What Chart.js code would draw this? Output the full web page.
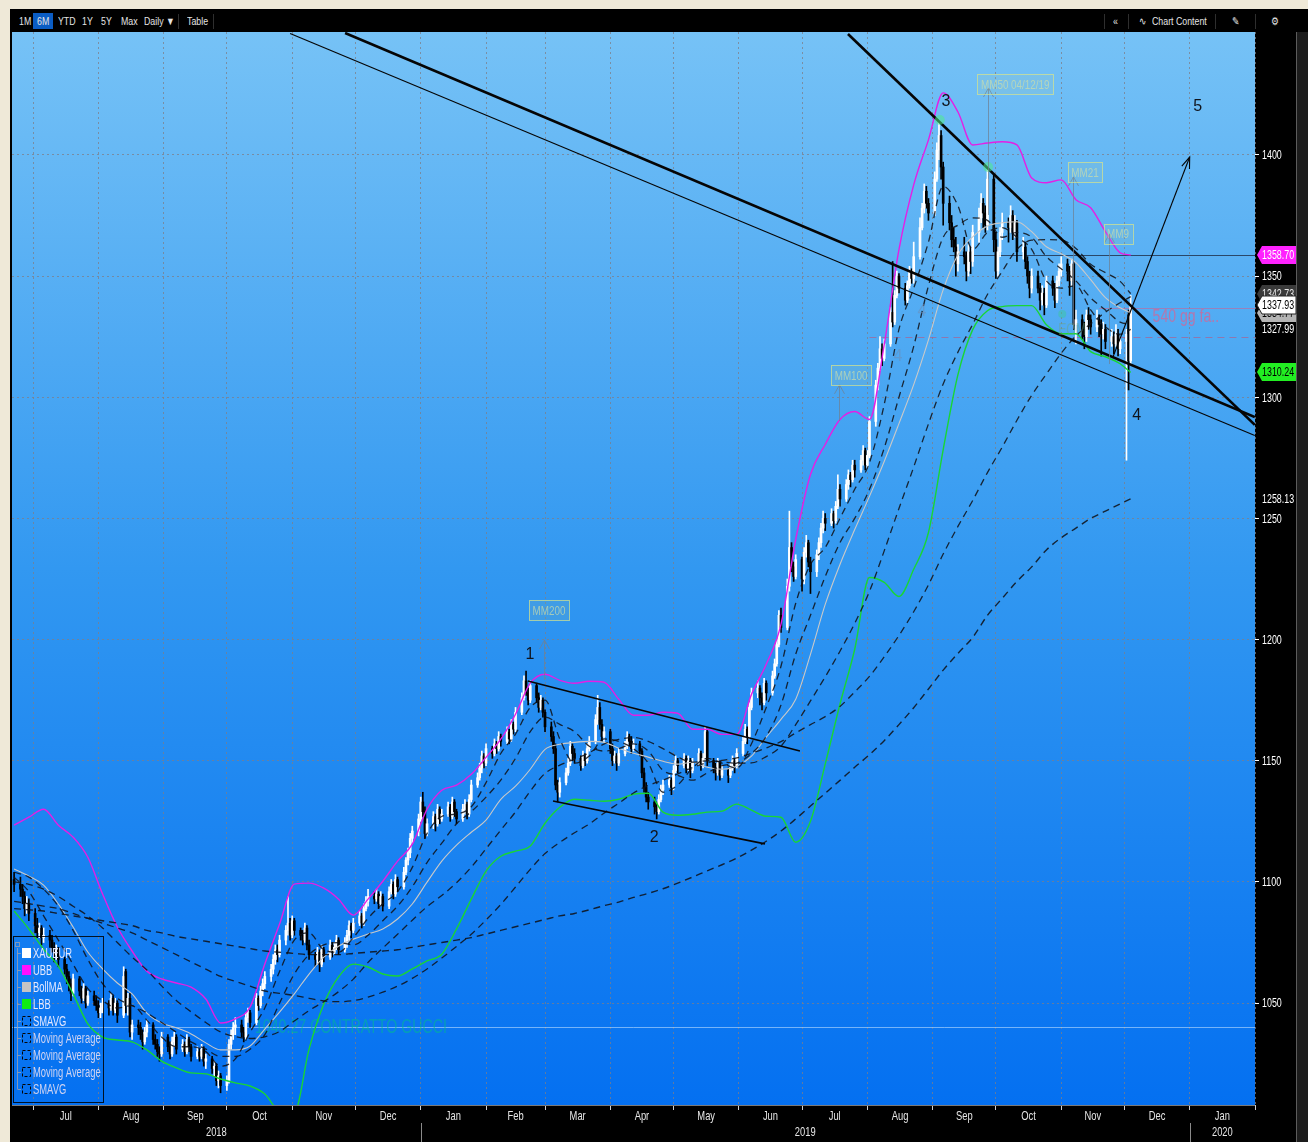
<!DOCTYPE html>
<html>
<head>
<meta charset="utf-8">
<title>XAUEUR</title>
<script src="https://cdn.jsdelivr.net/npm/chart.js@4.4.1/dist/chart.umd.min.js"></script>
<style>
  html, body { margin: 0; padding: 0; background: #efe9d8; }
  body { width: 1308px; height: 1142px; position: relative; overflow: hidden; }
  #chart { position: absolute; left: 0; top: 0; }
  #toolbar { position: absolute; left: 12px; top: 12px; width: 1284px; height: 19px; background: #000;
    font-family: 'Liberation Sans', Arial, sans-serif; font-size: 11px; color: #e4e4e4; }
  #toolbar span { position: absolute; top: 3px; white-space: nowrap; transform: scaleX(0.8); transform-origin: left center; }
  #toolbar .on { background: #0b5dc4; top: 1px; padding: 2px 5px; }
  #toolbar .sep { top: 2px; width: 1px; height: 15px; background: #2e2e2e; transform: none; }
</style>
</head>
<body>
<canvas id="chart" width="1308" height="1142"></canvas>
<div id="toolbar">
  <span style="left:7px">1M</span>
  <span class="on" style="left:21px">6M</span>
  <span style="left:46px">YTD</span>
  <span style="left:70px">1Y</span>
  <span style="left:89px">5Y</span>
  <span style="left:109px">Max</span>
  <span style="left:132px">Daily &#9660;</span>
  <span class="sep" style="left:166px"></span>
  <span style="left:175px">Table</span>
  <span class="sep" style="left:201px"></span>
  <span class="sep" style="left:1092px"></span>
  <span style="left:1101px">&laquo;</span>
  <span class="sep" style="left:1116px"></span>
  <span style="left:1127px">&#8767;</span>
  <span style="left:1140px">Chart Content</span>
  <span class="sep" style="left:1203px"></span>
  <span style="left:1220px">&#9998;</span>
  <span class="sep" style="left:1243px"></span>
  <span style="left:1259px">&#9881;</span>
</div>
<script>
const FONT = "'Liberation Sans', Arial, sans-serif";

// ---- daily candles, one per weekday, first one Fri 22 Jun 2018 (days counted from 1 Jan 2019)
const firstDay = -193;
const opens = [
  1101,
  1099,1097,1094,1089,1091, 1087,1082,1079,1081,1077, 1078,1076,1073,1070,1072, 1068,1064,1061,1058,1054,
  1060,1055,1052,1056,1050, 1053,1051,1049,1046,1048, 1050,1048,1052,1047,1050, 1045,1063,1049,1052,1038,
  1041,1040,1037,1034,1038, 1041,1035,1033,1030,1029, 1036,1032,1029,1034,1036, 1031,1033,1030,1035,1032,
  1028,1030,1028,1031,1026, 1027,1023,1024,1018,1020, 1016,1018,1033,1037,1040, 1041,1038,1036,1044,1046,
  1042,1052,1049,1055,1058, 1061,1064,1068,1072,1070, 1076,1080,1083,1078,1084, 1080,1078,1076,1081,1074,
  1070,1068,1071,1066,1072, 1069,1074,1071,1073,1076, 1072,1075,1078,1082,1080, 1083,1086,1083,1089,1092,
  1094,1093,1095,1091,1094, 1090,1096,1099,1095,1101, 1098,1104,1109,1112,1118, 1121,1126,1133,1129,1120,
  1124,1127,1124,1130,1126, 1128,1131,1127,1133,1129, 1126,1130,1132,1128,1134, 1140,1143,1147,1152,1149,
  1155,1153,1157,1155,1160, 1158,1162,1159,1165,1163, 1170,1176,1183,1178,1175, 1181,1176,1172,1175,1170,
  1164,1160,1155,1140,1137, 1141,1145,1149,1156,1153, 1151,1148,1152,1150,1155, 1158,1167,1172,1165,1160,
  1162,1155,1150,1152,1149, 1153,1156,1160,1158,1155, 1157,1154,1145,1139,1135, 1133,1131,1129,1134,1138,
  1140,1142,1139,1146,1150, 1148,1151,1147,1150,1146, 1149,1153,1148,1151,1162, 1150,1147,1145,1149,1144,
  1146,1144,1147,1150,1148, 1153,1158,1163,1160,1172, 1178,1180,1176,1174,1182, 1178,1185,1190,1198,1210,
  1205,1222,1238,1230,1226, 1233,1225,1236,1240,1232, 1228,1235,1240,1246,1250, 1248,1252,1249,1255,1262,
  1258,1264,1268,1266,1272, 1270,1274,1278,1272,1276, 1290,1305,1312,1320,1316, 1322,1335,1331,1342,1350,
  1345,1340,1346,1352,1349, 1358,1370,1378,1385,1380, 1376,1390,1402,1408,1395, 1380,1372,1365,1362,1355,
  1360,1358,1352,1360,1356, 1368,1374,1380,1376,1371, 1390,1365,1352,1360,1368, 1372,1370,1375,1368,1372,
  1360,1362,1356,1350,1345, 1350,1345,1340,1343,1338, 1348,1345,1340,1348,1352, 1355,1352,1348,1355,1330,
  1332,1328,1325,1334,1332, 1329,1332,1330,1326,1328, 1323,1325,1322,1326,1320,
  1323,1334,1315
];
const highs = [
  1104,
  1102,1099,1096,1094,1093, 1089,1085,1083,1082,1081, 1080,1078,1075,1074,1073, 1069,1066,1063,1060,1062,
  1061,1057,1058,1057,1055, 1055,1053,1051,1050,1052, 1051,1054,1053,1052,1051, 1065,1064,1054,1054,1043,
  1043,1042,1039,1040,1043, 1042,1037,1035,1032,1038, 1037,1034,1036,1038,1037, 1035,1034,1037,1036,1033,
  1032,1031,1033,1032,1029, 1028,1026,1025,1022,1021, 1020,1035,1039,1042,1044, 1043,1040,1046,1048,1047,
  1054,1053,1057,1060,1063, 1066,1070,1074,1074,1078, 1082,1094,1085,1086,1085, 1081,1080,1083,1082,1076,
  1071,1073,1072,1074,1073, 1076,1075,1075,1078,1077, 1077,1080,1084,1083,1085, 1088,1087,1091,1094,1097,
  1096,1097,1096,1096,1095, 1098,1101,1100,1103,1102, 1106,1110,1114,1120,1123, 1128,1135,1137,1131,1126,
  1129,1128,1132,1131,1130, 1133,1132,1135,1134,1130, 1132,1134,1133,1136,1142, 1145,1149,1154,1153,1157,
  1156,1159,1158,1162,1161, 1164,1163,1167,1166,1172, 1178,1185,1187,1180,1183, 1182,1178,1177,1176,1171,
  1166,1162,1157,1142,1143, 1147,1151,1158,1157,1155, 1152,1154,1153,1157,1160, 1169,1177,1174,1167,1164,
  1163,1157,1154,1153,1155, 1158,1162,1161,1160,1159, 1158,1155,1147,1141,1137, 1135,1133,1136,1140,1142,
  1144,1143,1148,1152,1151, 1153,1152,1152,1151,1151, 1155,1154,1153,1164,1163, 1151,1149,1151,1150,1148,
  1147,1149,1152,1151,1155, 1160,1165,1164,1174,1180, 1183,1181,1178,1184,1183, 1187,1192,1200,1212,1213,
  1225,1253,1240,1232,1235, 1234,1238,1243,1241,1234, 1237,1242,1248,1253,1252, 1254,1253,1257,1268,1264,
  1266,1270,1269,1274,1274, 1276,1280,1279,1278,1292, 1307,1314,1325,1322,1324, 1337,1356,1344,1352,1351,
  1347,1348,1354,1353,1364, 1374,1380,1388,1387,1382, 1393,1405,1414,1410,1397, 1383,1375,1370,1366,1363,
  1366,1360,1363,1362,1371, 1378,1384,1382,1379,1395, 1392,1368,1362,1370,1376, 1374,1379,1377,1375,1373,
  1366,1364,1358,1352,1353, 1352,1347,1346,1345,1350, 1350,1347,1350,1355,1358, 1357,1354,1357,1356,1336,
  1334,1331,1336,1337,1334, 1336,1334,1332,1331,1330, 1328,1327,1330,1328,1325,
  1328,1336,1342
];
const lows = [
  1096,
  1094,1091,1086,1087,1084, 1079,1077,1077,1074,1075, 1073,1071,1067,1068,1065, 1062,1058,1055,1051,1053,
  1053,1050,1051,1048,1049, 1049,1047,1044,1044,1046, 1045,1047,1045,1046,1042, 1044,1046,1045,1036,1035,
  1037,1035,1031,1033,1036, 1033,1031,1028,1026,1028, 1030,1027,1028,1032,1029, 1030,1028,1029,1030,1026,
  1027,1026,1027,1024,1023, 1021,1020,1016,1015,1013, 1014,1017,1031,1035,1037, 1036,1034,1035,1042,1040,
  1041,1047,1048,1053,1056, 1059,1062,1066,1067,1069, 1074,1078,1076,1077,1078, 1076,1074,1075,1072,1068,
  1065,1066,1063,1065,1067, 1068,1069,1070,1072,1070, 1071,1073,1076,1077,1079, 1082,1081,1082,1088,1090,
  1091,1092,1089,1090,1088, 1089,1095,1093,1094,1096, 1097,1103,1107,1110,1116, 1119,1125,1127,1118,1119,
  1122,1121,1123,1124,1125, 1127,1125,1126,1127,1124, 1125,1128,1126,1127,1133, 1139,1142,1145,1147,1148,
  1151,1152,1153,1154,1156, 1157,1157,1158,1161,1162, 1169,1175,1177,1173,1174, 1174,1170,1171,1168,1162,
  1158,1153,1138,1133,1135, 1140,1144,1148,1150,1149, 1146,1147,1148,1149,1154, 1157,1165,1163,1158,1158,
  1153,1148,1149,1146,1148, 1152,1155,1156,1153,1154, 1152,1143,1137,1133,1130, 1128,1126,1128,1133,1136,
  1139,1136,1138,1145,1145, 1147,1145,1146,1143,1145, 1148,1146,1147,1150,1148, 1145,1142,1144,1142,1143,
  1141,1143,1146,1145,1147, 1152,1157,1157,1159,1171, 1176,1173,1171,1173,1175, 1177,1184,1189,1197,1203,
  1204,1220,1228,1224,1225, 1220,1223,1234,1230,1219, 1226,1233,1238,1244,1245, 1247,1246,1248,1254,1255,
  1257,1262,1263,1265,1267, 1269,1272,1270,1271,1275, 1288,1303,1311,1313,1315, 1321,1329,1330,1341,1343,
  1338,1339,1345,1347,1347, 1357,1369,1376,1378,1373, 1375,1389,1398,1390,1371, 1369,1362,1360,1350,1352,
  1355,1348,1350,1351,1354, 1364,1372,1370,1368,1369, 1360,1349,1350,1358,1365, 1364,1368,1365,1366,1356,
  1357,1353,1347,1341,1343, 1343,1336,1338,1334,1337, 1342,1337,1339,1346,1350, 1348,1342,1346,1328,1322,
  1324,1320,1323,1328,1326, 1327,1325,1317,1324,1320, 1321,1318,1321,1317,1318,
  1274,1303,1313
];
const closes = [
  1099,
  1097,1094,1089,1091,1087, 1082,1079,1081,1077,1078, 1076,1073,1070,1072,1068, 1064,1061,1058,1054,1060,
  1055,1052,1056,1050,1053, 1051,1049,1046,1048,1050, 1048,1052,1047,1050,1045, 1061,1049,1052,1038,1041,
  1040,1037,1034,1038,1041, 1035,1033,1030,1029,1036, 1032,1029,1034,1036,1031, 1033,1030,1035,1032,1028,
  1030,1028,1031,1026,1027, 1023,1024,1018,1020,1016, 1018,1033,1037,1040,1041, 1038,1036,1044,1046,1042,
  1052,1049,1055,1058,1061, 1064,1068,1072,1070,1076, 1080,1083,1078,1084,1080, 1078,1076,1081,1074,1070,
  1068,1071,1066,1072,1069, 1074,1071,1073,1076,1072, 1075,1078,1082,1080,1083, 1086,1083,1089,1092,1094,
  1093,1095,1091,1094,1090, 1096,1099,1095,1101,1098, 1104,1109,1112,1118,1121, 1126,1133,1129,1120,1124,
  1127,1124,1130,1126,1128, 1131,1127,1133,1129,1126, 1130,1132,1128,1134,1140, 1143,1147,1152,1149,1155,
  1153,1157,1155,1160,1158, 1162,1159,1165,1163,1170, 1176,1183,1178,1175,1181, 1176,1172,1175,1170,1164,
  1160,1155,1140,1137,1141, 1145,1149,1156,1153,1151, 1148,1152,1150,1155,1158, 1167,1172,1165,1160,1162,
  1155,1150,1152,1149,1153, 1156,1160,1158,1155,1157, 1154,1145,1139,1135,1133, 1131,1129,1134,1138,1140,
  1142,1139,1146,1150,1148, 1151,1147,1150,1146,1149, 1153,1148,1151,1162,1150, 1147,1145,1149,1144,1146,
  1144,1147,1150,1148,1153, 1158,1163,1160,1172,1178, 1180,1176,1174,1182,1178, 1185,1190,1198,1210,1205,
  1222,1238,1230,1226,1233, 1225,1236,1240,1232,1228, 1235,1240,1246,1250,1248, 1252,1249,1255,1262,1258,
  1264,1268,1266,1272,1270, 1274,1278,1272,1276,1290, 1305,1312,1320,1316,1322, 1335,1331,1342,1350,1345,
  1340,1346,1352,1349,1358, 1370,1378,1385,1380,1376, 1390,1402,1408,1395,1380, 1372,1365,1362,1355,1360,
  1358,1352,1360,1356,1368, 1374,1380,1376,1371,1390, 1365,1352,1360,1368,1372, 1370,1375,1368,1372,1360,
  1362,1356,1350,1345,1350, 1345,1340,1343,1338,1348, 1345,1340,1348,1352,1355, 1352,1348,1355,1330,1332,
  1328,1325,1334,1332,1329, 1332,1330,1326,1328,1323, 1325,1322,1326,1320,1323,
  1326,1315,1337.93
];

const ubb = [
  1123.4,1126.7,1130,1123.4,1118.5,1110.2,1095,1081.4,1071.5,1063.2,
  1060,1058.3,1056.6,1051.7,1041.8,1043.5,1048.4,1066.1,1082.6,1099.1,
  1099.5,1097.4,1092.9,1086.3,1092.9,1100.3,1108.6,1115.6,1130,1137.8,
  1139.9,1144.4,1151.4,1158.9,1169.2,1182,1185.7,1183.2,1182,1182.8,
  1182.4,1175.4,1168.8,1168.8,1170,1169.6,1163,1163,1160.9,1160.9,
  1177.4,1189.8,1206.3,1241.3,1268.1,1280.5,1290.8,1294.1,1290.8,1321.7,
  1360.9,1387.6,1406.2,1425.6,1417.7,1404.1,1404.9,1405.4,1404.1,1390.5,
  1388.5,1389.7,1381.5,1378.2,1368.3,1359.6,1358.70
];
const lbb = [
  1088,1080.6,1072.3,1065.3,1053.8,1041.4,1036,1034.8,1034,1030.7,
  1026.1,1023.3,1021.2,1020.8,1018.7,1017.1,1015.8,1012.5,1005.5,1005,
  1031,1049.6,1060.8,1066.1,1064.9,1062,1061.2,1064.1,1067.4,1070.2,
  1080.6,1092.9,1104.5,1110.6,1112.7,1114.8,1124.2,1130.8,1134.1,1133.7,
  1133.3,1134.1,1136.2,1136.6,1128.8,1127.5,1127.9,1128.8,1129.2,1132.1,
  1129.6,1127.1,1126.7,1116.4,1125,1148.6,1173.3,1196,1225.6,1223.6,
  1217.8,1229,1244.2,1278.4,1309.3,1327.9,1335.7,1337.4,1337.8,1337.8,
  1329.9,1326.2,1326.2,1318.8,1316.7,1313.8,1310.24
];
const bollMa = [
  1105.3,1102.4,1098.7,1090.9,1081.4,1071.1,1064.1,1058.3,1053.8,1045.9,
  1041.8,1039.8,1037.3,1033.6,1030.7,1030.7,1032.3,1039.3,1046.3,1053.8,
  1062,1069,1073.5,1076.4,1078.5,1080.6,1084.7,1090.9,1099.9,1108.6,
  1115.2,1120.5,1125.5,1134.1,1139.5,1146.5,1154.7,1156.8,1157.6,1158,
  1157.6,1155.2,1153.1,1151.5,1149.8,1148.6,1149.4,1147.3,1146.5,1147.7,
  1151.9,1159.7,1167.1,1175.4,1193.9,1214.5,1231,1245.4,1259.1,1273.5,
  1289.1,1305.2,1323.7,1344.4,1358.8,1366.2,1370.7,1372,1372.4,1368.3,
  1362.1,1359.2,1355.5,1348.5,1341.1,1336.9,1334.77
];
const ma9 = [
  1102,1096,1086,1076,1066,1056,1051,1048,1049,1043,
  1036,1032,1032,1030,1024,1027,1038,1048,1063,1076,
  1079,1072,1071,1077,1085,1091,1096,1106,1120,1127,
  1128,1131,1141,1153,1161,1172,1175,1159,1149,1152,
  1159,1158,1155,1149,1137,1140,1147,1151,1149,1147,
  1157,1172,1189,1215,1231,1238,1250,1262,1273,1297,
  1328,1345,1364,1387,1379,1361,1368,1370,1366,1361,
  1348,1345,1346,1336,1329,1326,1327.99
];
const ma21 = [
  1104,1102,1097,1090,1080,1068,1058,1052,1049,1046,
  1042,1038,1034,1031,1028,1028,1031,1037,1050,1062,
  1070,1074,1075,1074,1078,1084,1090,1098,1108,1116,
  1124,1129,1135,1142,1151,1162,1168,1165,1162,1156,
  1154,1155,1157,1154,1146,1144,1142,1145,1148,1149,
  1153,1160,1173,1194,1210,1226,1240,1250,1262,1279,
  1300,1321,1346,1366,1371,1374,1373,1366,1368,1366,
  1358,1353,1348,1341,1336,1331,1330
];
const ma50 = [
  1100,1099,1097,1094,1090,1086,1081,1075,1069,1063.7,
  1057.1,1051.1,1046.4,1042,1038.1,1036.2,1035.4,1036.1,1038.3,1042.6,
  1046.9,1050.6,1054.7,1059.9,1066.8,1072.7,1078.4,1084.2,1089.8,1094.4,
  1099.7,1106.1,1113.7,1121.4,1128.9,1137.5,1144.8,1148.2,1150.7,1153.3,
  1156.9,1158.8,1159.6,1158,1155,1151.6,1149.4,1150,1149.5,1149,
  1149.1,1151.7,1156,1164.9,1174.7,1184.6,1195.2,1206.7,1219.9,1236.6,
  1254.1,1271.2,1289,1305.5,1318.6,1330.1,1342.4,1351.9,1361,1364.8,
  1365,1364.9,1361.4,1354.9,1351.4,1347.8,1342.73
];
const ma100 = [
  1092,1091,1090,1089,1087,1085,1083,1081,1079,1076,
  1073,1070,1067,1064,1061,1059,1057,1055,1054,1053.2,
  1052,1050.9,1050.6,1051,1052.5,1054.5,1057,1060.2,1064.1,1068.6,
  1073.4,1078.4,1084.3,1090.7,1097.9,1105.2,1111.7,1116.3,1120.3,1123.9,
  1128.4,1132.5,1136.7,1139.8,1142,1144.6,1147.2,1149.2,1150.2,1151.2,
  1153.1,1155.3,1157.9,1161.5,1164.9,1168.2,1172.4,1178.4,1184.8,1192.9,
  1201.7,1211.5,1222.6,1235.3,1246.7,1257.4,1268.9,1279.4,1290.5,1300.8,
  1309.6,1318.1,1325.3,1330.3,1335.1,1339,1341.5
];
const ma200 = [
  1089,1088.5,1088,1087,1086,1085,1084,1083,1082,1080,
  1079,1077.5,1076.5,1075.5,1074.5,1073.5,1072.5,1071.5,1071,1070.5,
  1070,1070,1070,1070.5,1071,1071.5,1072,1073,1074,1075,
  1076,1077,1078.5,1080,1081.5,1083,1084.5,1086,1087,1088.5,
  1090.2,1091.7,1093.6,1095.3,1097.2,1099.5,1102,1104.6,1107.1,1109.8,
  1113.1,1116.8,1121,1126,1131.3,1136.6,1141.9,1147.3,1152.5,1158.3,
  1164.9,1171.9,1179.6,1187.4,1194.3,1200.9,1210,1217,1224,1230,
  1237,1242,1246,1250,1253,1256,1258.13
];

// ---- drawn trend lines [day1, price1, day2, price2]
const trendLines = [
  [-35.9, 1450.3, 395.9, 1291.8],
  [-62.0, 1450.1, 395.9, 1284.2],
  [202.8, 1449.9, 395.9, 1288.6],
  [50.9, 1182.9, 180.0, 1154.0],
  [62.8, 1133.4, 163.4, 1115.7],
  [328.4, 1316.2, 365.0, 1399.1]
];
const waveLabels = ['1', '2', '3', '4', '5'];
const waveDays = [51.9, 110.8, 249.3, 339.9, 368.8];
const wavePrices = [1193.7, 1118.2, 1421.8, 1292.3, 1419.8];
const maTags = ['MM200', 'MM100', 'MM50 04/12/19', 'MM21', 'MM9'];
const maTagDays = [60.9, 204.3, 282.2, 315.3, 331.0];
const maTagPrices = [1212.2, 1309.2, 1429.2, 1392.9, 1367.4];
const maArrowDays = [58.5, 198.6, 269.3, 309.6, 326.7];
const maArrowLow = [1183.3, 1290.2, 1375.2, 1328.2, 1313.7];
const maArrowHigh = [1199.8, 1305.1, 1427.6, 1390.9, 1367.4];
const guccLevel = 1040.27;
const guccLabel = '1040.27 CONTRATTO GUCCI';

// ---- axes
const monthStarts = [-184, -153, -122, -92, -61, -31, 0, 31, 59, 90, 120, 151, 181, 212, 243, 273, 304, 334, 365, 396];
const monthNames = ['Jul', 'Aug', 'Sep', 'Oct', 'Nov', 'Dec', 'Jan', 'Feb', 'Mar', 'Apr', 'May', 'Jun', 'Jul', 'Aug', 'Sep', 'Oct', 'Nov', 'Dec', 'Jan'];
const yearStarts = [0, 365];
const yearNames = ['2018', '2019', '2020'];
const yTicks = [1050, 1100, 1150, 1200, 1250, 1300, 1350, 1400];
const lastTags = [1334.77, 1342.73, 1327.99, 1358.70, 1310.24, 1258.13, 1337.93];
const legendNames = ['XAUEUR', 'UBB', 'BollMA', 'LBB', 'SMAVG', 'Moving Average', 'Moving Average', 'Moving Average', 'SMAVG'];

// weekday positions of the candles
const days = [];
for (let d = firstDay; days.length < closes.length; d++) {
  const dow = ((d + 2) % 7 + 7) % 7;
  if (dow !== 0 && dow !== 6) days.push(d);
}
if (opens.length !== closes.length || highs.length !== closes.length || lows.length !== closes.length) {
  throw new Error('candle arrays differ: ' + [opens.length, highs.length, lows.length, closes.length].join(','));
}
// weekly sample days for the studies (Fridays) + last day
const studyDays = [];
for (let d = firstDay; d <= 332; d += 7) studyDays.push(d);
studyDays.push(days[days.length - 1]);
[ubb, lbb, bollMa, ma9, ma21, ma50, ma100, ma200].forEach(a => {
  if (a.length !== studyDays.length) throw new Error('study length ' + a.length + ' vs ' + studyDays.length);
});

const candleColors = closes.map((c, i) => (c >= opens[i] ? '#ffffff' : '#000000'));

function study(label, values, color, width, dash) {
  return {
    type: 'line', label,
    data: studyDays.map((d, i) => ({ x: d, y: values[i] })),
    borderColor: color, borderWidth: width, borderDash: dash,
    pointRadius: 0, cubicInterpolationMode: 'monotone', order: 2
  };
}

// Bloomberg uses a narrow face; draw a regular one squeezed horizontally
function narrow(ctx, s, x, y, align, sq = 0.76) {
  const w = ctx.measureText(s).width * sq;
  const left = align === 'center' ? x - w / 2 : align === 'right' ? x - w : x;
  ctx.save();
  ctx.textAlign = 'left';
  ctx.translate(left, y);
  ctx.scale(sq, 1);
  ctx.fillText(s, 0, 0);
  ctx.restore();
  return w;
}

const datasets = [
  ...trendLines.map((t, i) => ({
    type: 'line', label: 'trend ' + i,
    data: [{ x: t[0], y: t[1] }, { x: t[2], y: t[3] }],
    borderColor: '#050505', borderWidth: [2.6, 1.2, 2.6, 1.6, 1.6, 1.1][i],
    pointRadius: 0, tension: 0, order: 0
  })),
  study('SMAVG 9', ma9, 'rgba(15,15,20,0.85)', 1.3, [7, 5]),
  study('MA 21', ma21, 'rgba(15,15,20,0.85)', 1.3, [7, 5]),
  study('MA 50', ma50, 'rgba(15,15,20,0.85)', 1.3, [7, 5]),
  study('MA 100', ma100, 'rgba(15,15,20,0.85)', 1.3, [7, 5]),
  study('SMAVG 200', ma200, 'rgba(15,15,20,0.85)', 1.4, [7, 5]),
  study('UBB', ubb, '#e51ee5', 1.4, []),
  study('BollMA', bollMa, '#c9c9c9', 1.1, []),
  study('LBB', lbb, '#19d633', 1.4, []),
  {
    type: 'bar', label: 'XAUEUR',
    data: days.map((d, i) => ({ x: d, y: [opens[i], closes[i]] })),
    backgroundColor: candleColors, borderWidth: 0,
    barThickness: 2, minBarLength: 1, grouped: false, order: 4
  },
  {
    type: 'bar', label: 'XAUEUR range',
    data: days.map((d, i) => ({ x: d, y: [lows[i], highs[i]] })),
    backgroundColor: candleColors, borderWidth: 0,
    barThickness: 1, grouped: false, order: 5
  }
];

const frame = {
  id: 'frame',
  beforeDraw(c) {
    const ctx = c.ctx, a = c.chartArea;
    ctx.save();
    ctx.fillStyle = '#efe9d8';
    ctx.fillRect(0, 0, 1308, 1142);
    ctx.fillStyle = '#000';
    ctx.fillRect(10, 9, 1298, 1133);
    ctx.fillStyle = '#1c1c1c';
    ctx.fillRect(1297, 32, 11, 1110);
    ctx.fillStyle = '#5c5c5c';
    ctx.fillRect(1296, 32, 1, 1110);
    const g = ctx.createLinearGradient(0, a.top, 0, a.bottom);
    g.addColorStop(0, 'rgb(118,194,246)');
    g.addColorStop(0.5, 'rgb(50,152,241)');
    g.addColorStop(1, 'rgb(4,112,241)');
    ctx.fillStyle = g;
    ctx.fillRect(a.left, a.top, a.right - a.left, a.bottom - a.top);
    ctx.restore();
  },
  beforeDatasetsDraw(c) {
    const ctx = c.ctx, a = c.chartArea, xs = c.scales.x, ys = c.scales.y;
    ctx.save();
    ctx.beginPath();
    ctx.rect(a.left, a.top, a.right - a.left, a.bottom - a.top);
    ctx.clip();
    const hline = (price, fromDay, color, dash) => {
      const y = Math.round(ys.getPixelForValue(price)) + 0.5;
      ctx.strokeStyle = color;
      ctx.lineWidth = 1;
      ctx.setLineDash(dash);
      ctx.beginPath();
      ctx.moveTo(Math.max(a.left, xs.getPixelForValue(fromDay)), y);
      ctx.lineTo(a.right, y);
      ctx.stroke();
    };
    hline(guccLevel, -194, 'rgba(205,232,255,0.55)', []);
    hline(lastTags[3], 251, 'rgba(30,45,70,0.8)', []);
    hline(1325, 213, 'rgba(185,85,130,0.6)', [7, 5]);
    hline(1337, 322, 'rgba(200,100,150,0.6)', []);
    ctx.setLineDash([]);
    ctx.font = '20px ' + FONT;
    ctx.fillStyle = 'rgba(0,190,140,0.55)';
    ctx.textBaseline = 'middle';
    narrow(ctx, guccLabel, xs.getPixelForValue(-78.7), ys.getPixelForValue(guccLevel) + 1, 'left', 0.71);
    ctx.restore();
  },
  afterDatasetsDraw(c) {
    const ctx = c.ctx, a = c.chartArea, xs = c.scales.x, ys = c.scales.y;
    const X = v => xs.getPixelForValue(v), Y = v => ys.getPixelForValue(v);
    ctx.save();
    ctx.beginPath();
    ctx.rect(a.left, a.top, a.right - a.left, a.bottom - a.top);
    ctx.clip();

    // green touch dots
    ctx.fillStyle = 'rgba(80,235,140,0.55)';
    [[246.4, 1414.4], [269.3, 1395]].forEach(p => {
      ctx.beginPath(); ctx.arc(X(p[0]), Y(p[1]), 5, 0, Math.PI * 2); ctx.fill();
    });
    ctx.fillStyle = 'rgba(60,200,160,0.5)';
    ctx.beginPath(); ctx.arc(X(304.5), Y(1334.3), 4, 0, Math.PI * 2); ctx.fill();

    // arrow head on the projection line
    const t = trendLines[5];
    const x1 = X(t[0]), y1 = Y(t[1]), x2 = X(t[2]), y2 = Y(t[3]);
    const ang = Math.atan2(y2 - y1, x2 - x1);
    ctx.strokeStyle = '#050505';
    ctx.lineWidth = 1.1;
    ctx.beginPath();
    ctx.moveTo(x2 - 12 * Math.cos(ang - 0.35), y2 - 12 * Math.sin(ang - 0.35));
    ctx.lineTo(x2, y2);
    ctx.lineTo(x2 - 12 * Math.cos(ang + 0.35), y2 - 12 * Math.sin(ang + 0.35));
    ctx.stroke();

    // MM tags with arrows
    ctx.font = '13px ' + FONT;
    ctx.textBaseline = 'middle';
    maTags.forEach((txt, i) => {
      const ax = Math.round(X(maArrowDays[i])) + 0.5, yl = Y(maArrowLow[i]), yh = Y(maArrowHigh[i]);
      ctx.strokeStyle = 'rgba(110,130,150,0.75)';
      ctx.lineWidth = 1;
      ctx.beginPath();
      ctx.moveTo(ax, yl); ctx.lineTo(ax, yh);
      ctx.moveTo(ax - 5, yh + 9); ctx.lineTo(ax, yh); ctx.lineTo(ax + 5, yh + 9);
      ctx.stroke();
      const cx = X(maTagDays[i]), cy = Y(maTagPrices[i]);
      const w = ctx.measureText(txt).width * 0.76 + 7;
      ctx.fillStyle = 'rgba(190,215,150,0.12)';
      ctx.fillRect(cx - w / 2, cy - 10, w, 20);
      ctx.strokeStyle = 'rgba(215,228,140,0.7)';
      ctx.strokeRect(Math.round(cx - w / 2) + 0.5, Math.round(cy - 10) + 0.5, Math.round(w), 20);
      ctx.fillStyle = 'rgba(205,222,170,0.7)';
      narrow(ctx, txt, cx, cy + 1, 'center');
    });

    // wave counts
    ctx.font = '16px ' + FONT;
    ctx.textAlign = 'center';
    ctx.fillStyle = '#10141c';
    waveLabels.forEach((s, i) => ctx.fillText(s, X(waveDays[i]), Y(wavePrices[i])));
    ctx.fillStyle = 'rgba(110,140,180,0.55)';
    ctx.fillText('4', X(226.5), Y(1316.6));
    ctx.fillText('4', X(237.9), Y(1335.2));

    ctx.font = '19px ' + FONT;
    ctx.fillStyle = 'rgba(205,105,155,0.8)';
    narrow(ctx, '540 gg fa..', X(347.4), Y(1333.4), 'left', 0.74);
    ctx.font = '16px ' + FONT;
    ctx.fillStyle = 'rgba(110,165,125,0.45)';
    narrow(ctx, 'EOM', X(302.6), Y(1327.3), 'left');
    ctx.restore();

    // legend
    ctx.save();
    ctx.strokeStyle = 'rgba(0,0,0,0.85)';
    ctx.lineWidth = 1;
    ctx.strokeRect(13.5, 936.5, 90, 166);
    ctx.strokeStyle = 'rgba(160,160,170,0.8)';
    ctx.beginPath();
    ctx.moveTo(17.5, 948); ctx.lineTo(17.5, 1089);
    ctx.stroke();
    ctx.strokeRect(15.5, 942.5, 4, 4);
    ctx.font = '14px ' + FONT;
    ctx.textBaseline = 'middle';
    const swatch = ['#ffffff', '#ff10ff', '#c4c4c4', '#10ee10'];
    legendNames.forEach((name, i) => {
      const y = 953 + i * 17;
      ctx.strokeStyle = 'rgba(160,160,170,0.8)';
      ctx.setLineDash([]);
      ctx.beginPath(); ctx.moveTo(17.5, y + 0.5); ctx.lineTo(21, y + 0.5); ctx.stroke();
      if (i < 4) {
        ctx.fillStyle = swatch[i];
        ctx.fillRect(22, y - 5, 9, 10);
      } else {
        ctx.strokeStyle = '#050505';
        ctx.setLineDash([3, 2]);
        ctx.strokeRect(22.5, y - 4.5, 8, 9);
        ctx.setLineDash([]);
      }
      ctx.fillStyle = i < 5 ? '#e4e8ff' : '#cfd3f2';
      narrow(ctx, name, 33, y + 1, 'left', 0.67);
    });
    ctx.restore();
  },
  afterDraw(c) {
    const ctx = c.ctx, a = c.chartArea, xs = c.scales.x, ys = c.scales.y;
    ctx.save();
    // axis base line
    ctx.fillStyle = '#7a7a7a';
    ctx.fillRect(a.left, a.bottom, a.right - a.left, 1);
    // month names centred in each month, years below
    ctx.font = '13px ' + FONT;
    ctx.fillStyle = '#e6e6e6';
    ctx.textBaseline = 'middle';
    monthNames.forEach((m, i) => {
      const x = (xs.getPixelForValue(monthStarts[i]) + xs.getPixelForValue(monthStarts[i + 1])) / 2;
      if (x > a.left && x < a.right) narrow(ctx, m, x, 1116, 'center', 0.72);
    });
    const yb = [a.left, ...yearStarts.map(v => xs.getPixelForValue(v)), a.right];
    yearNames.forEach((s, i) => narrow(ctx, s, (yb[i] + yb[i + 1]) / 2, 1132, 'center', 0.72));
    ctx.fillStyle = '#8a8a8a';
    yearStarts.forEach(v => ctx.fillRect(Math.round(xs.getPixelForValue(v)), 1123, 1, 19));

    // price axis labels
    ctx.font = '12px ' + FONT;
    ctx.fillStyle = '#ffffff';
    yTicks.forEach(v => narrow(ctx, String(v), a.right + 7, ys.getPixelForValue(v) + 1, 'left', 0.74));

    // last-value tags on the price axis
    const fills = ['#b5b5b5', '#3b3b3b', null, '#ff22ff', '#22ee22', null, '#ffffff'];
    const inks = ['#000', '#e8e8e8', '#ffffff', '#ffffff', '#000', '#ffffff', '#000'];
    lastTags.forEach((v, i) => {
      const y = Math.round(ys.getPixelForValue(v));
      const x0 = a.right + 2;
      if (fills[i]) {
        ctx.fillStyle = fills[i];
        ctx.beginPath();
        ctx.moveTo(x0, y);
        ctx.lineTo(x0 + 5, y - 9);
        ctx.lineTo(1296, y - 9);
        ctx.lineTo(1296, y + 9);
        ctx.lineTo(x0 + 5, y + 9);
        ctx.closePath();
        ctx.fill();
        if (fills[i] === '#ffffff') { ctx.strokeStyle = '#222'; ctx.lineWidth = 1; ctx.stroke(); }
      }
      ctx.fillStyle = inks[i];
      narrow(ctx, v.toFixed(2), x0 + 5, y + 1, 'left', 0.74);
    });
    ctx.restore();
  }
};

new Chart(document.getElementById('chart'), {
  type: 'bar',
  data: { datasets },
  options: {
    responsive: false,
    animation: false,
    events: [],
    layout: { padding: { left: 12, top: 32, right: 0, bottom: 0 } },
    plugins: { legend: { display: false }, tooltip: { enabled: false } },
    scales: {
      x: {
        type: 'linear', min: -194, max: 396, offset: false,
        afterBuildTicks: s => { s.ticks = monthStarts.map(v => ({ value: v })); },
        afterFit: s => { s.height = 37; },
        ticks: { display: false },
        grid: { offset: false, color: 'rgba(125,125,135,0.75)', lineWidth: 1, drawTicks: true, tickLength: 5, tickColor: '#d0d0d0', tickBorderDash: [] },
        border: { display: false, dash: [2, 3] }
      },
      y: {
        type: 'linear', position: 'right', min: 1007.96, max: 1450.7,
        afterBuildTicks: s => { s.ticks = yTicks.map(v => ({ value: v })); },
        afterFit: s => { s.width = 53; },
        ticks: { display: false },
        grid: { color: 'rgba(125,125,135,0.75)', lineWidth: 1, drawTicks: true, tickLength: 4, tickColor: '#ffffff', tickBorderDash: [] },
        border: { display: false, dash: [2, 3] }
      }
    }
  },
  plugins: [frame]
});
</script>
</body>
</html>
